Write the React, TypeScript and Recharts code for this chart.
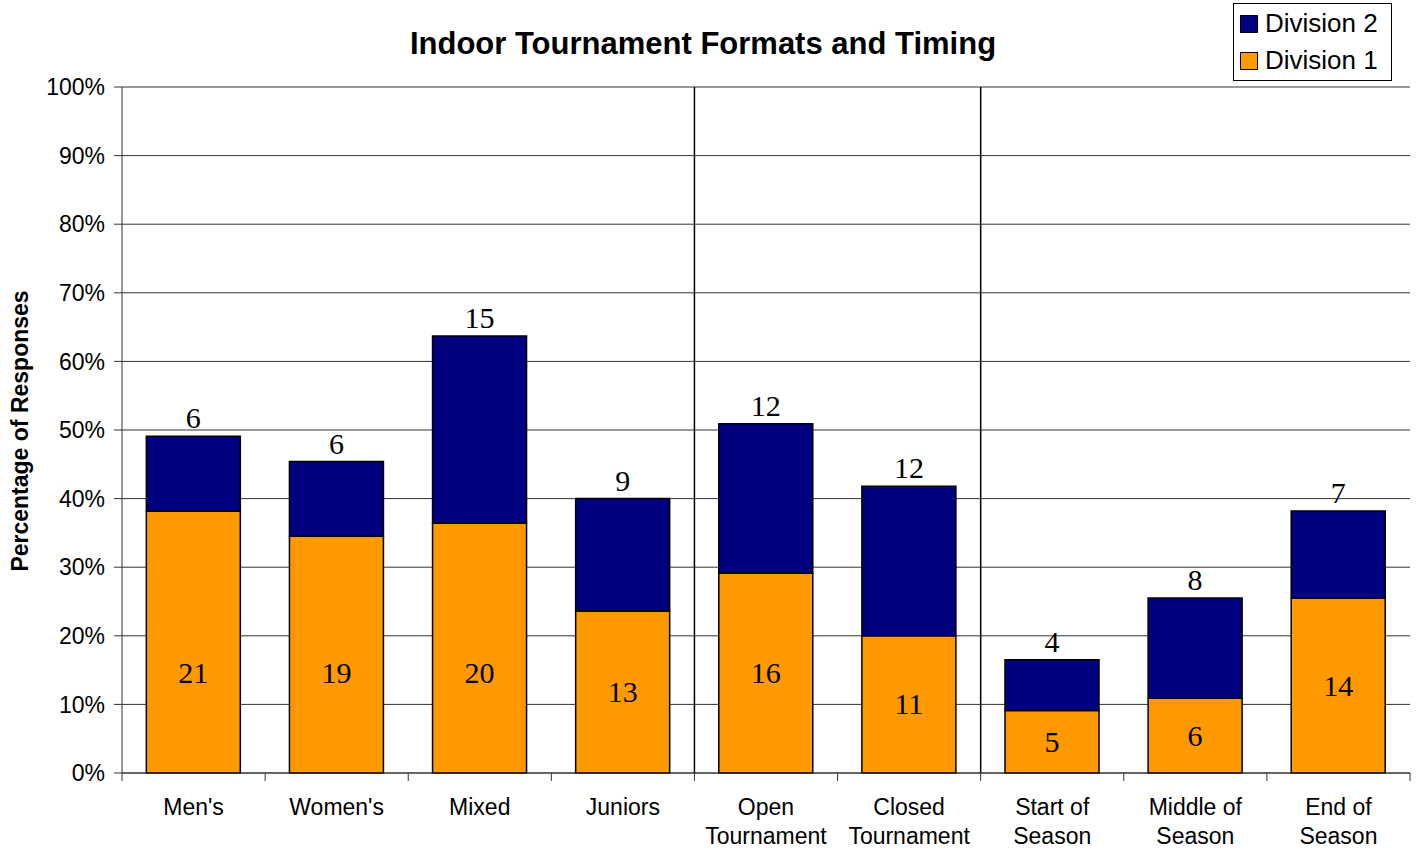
import { Bar, BarChart, CartesianGrid, LabelList, ReferenceLine, XAxis, YAxis } from "recharts";

const categories = [
  "Men's",
  "Women's",
  "Mixed",
  "Juniors",
  "Open\nTournament",
  "Closed\nTournament",
  "Start of\nSeason",
  "Middle of\nSeason",
  "End of\nSeason",
];

// percent of responses
const division1Pct = [38.2, 34.5, 36.4, 23.6, 29.1, 20.0, 9.1, 10.9, 25.5];
const division2Pct = [10.9, 10.9, 27.3, 16.4, 21.8, 21.8, 7.4, 14.6, 12.7];

// response counts printed on the bars
const division1Count = [21, 19, 20, 13, 16, 11, 5, 6, 14];
const division2Count = [6, 6, 15, 9, 12, 12, 4, 8, 7];

const yTicks = [0, 10, 20, 30, 40, 50, 60, 70, 80, 90, 100];

const data = categories.map((name, i) => ({
  name,
  d1: division1Pct[i],
  d2: division2Pct[i],
  c1: division1Count[i],
  c2: division2Count[i],
}));

const ORANGE = "#FF9900";
const NAVY = "#000080";
const SANS = "'Liberation Sans', Arial, sans-serif";
const SERIF = "'Liberation Serif', 'Times New Roman', serif";

function CategoryTick(props: any) {
  const { x, y, payload, index, visibleTicksCount } = props;
  const half = payload.offset ?? 0;
  const lines = String(payload.value).split("\n");
  const isLast = index === visibleTicksCount - 1;
  return (
    <g>
      <line x1={x - half} x2={x - half} y1={y} y2={y + 8} stroke="#333" />
      {isLast && <line x1={x + half} x2={x + half} y1={y} y2={y + 8} stroke="#333" />}
      <text x={x} y={y + 42} textAnchor="middle" fontSize={23} fontFamily={SANS} fill="#000">
        {lines.map((l, i) => (
          <tspan key={i} x={x} dy={i === 0 ? 0 : 29}>
            {l}
          </tspan>
        ))}
      </text>
    </g>
  );
}

// counts sit near the lower part of the orange segment
function InsideLabel(props: any) {
  const { x, y, width, height, value } = props;
  const bottom = y + height;
  const cy = bottom - Math.min(100, height / 2);
  return (
    <text x={x + width / 2} y={cy + 10} textAnchor="middle" fontSize={30} fontFamily={SERIF} fill="#000">
      {value}
    </text>
  );
}

function TopLabel(props: any) {
  const { x, y, width, value } = props;
  return (
    <text x={x + width / 2} y={y - 8} textAnchor="middle" fontSize={30} fontFamily={SERIF} fill="#000">
      {value}
    </text>
  );
}

function LegendBox() {
  const items = [
    { label: "Division 2", color: NAVY },
    { label: "Division 1", color: ORANGE },
  ];
  return (
    <div
      style={{
        position: "absolute",
        left: 1233,
        top: 3,
        width: 159,
        height: 78,
        border: "1px solid #000",
        background: "#fff",
        fontFamily: SANS,
        fontSize: 26,
        padding: "1px 0 0 6px",
        boxSizing: "border-box",
      }}
    >
      {items.map((it) => (
        <div key={it.label} style={{ display: "flex", alignItems: "center", height: 37 }}>
          <span
            style={{
              display: "inline-block",
              width: 16,
              height: 16,
              background: it.color,
              border: "1.5px solid #000",
              marginRight: 7,
            }}
          />
          {it.label}
        </div>
      ))}
    </div>
  );
}

export default function App() {
  return (
    <div style={{ position: "absolute", left: 0, top: 0, width: 1421, height: 850, background: "#fff" }}>
      <div
        style={{
          position: "absolute",
          left: 0,
          width: 1406,
          top: 26,
          textAlign: "center",
          fontFamily: SANS,
          fontWeight: "bold",
          fontSize: 31,
        }}
      >
        Indoor Tournament Formats and Timing
      </div>
      <div
        style={{
          position: "absolute",
          left: 20,
          top: 431,
          transform: "translate(-50%, -50%) rotate(-90deg)",
          whiteSpace: "nowrap",
          fontFamily: SANS,
          fontWeight: "bold",
          fontSize: 23,
        }}
      >
        Percentage of Responses
      </div>
      <BarChart
        width={1421}
        height={850}
        data={data}
        margin={{ top: 87, right: 11, left: 0, bottom: 0 }}
        barCategoryGap="17%"
        style={{ position: "absolute", left: 0, top: 0 }}
      >
        <CartesianGrid vertical={false} stroke="#333" strokeWidth={1} />
        <XAxis
          dataKey="name"
          height={77}
          interval={0}
          tickSize={0}
          tickMargin={0}
          stroke="#333"
          tick={<CategoryTick />}
        />
        <YAxis
          width={122}
          domain={[0, 100]}
          ticks={yTicks}
          tickFormatter={(v) => `${v}%`}
          tickSize={8}
          tickMargin={9}
          stroke="#333"
          tick={{ fill: "#000", fontSize: 23, fontFamily: SANS }}
        />
        <ReferenceLine x="Juniors" position="end" stroke="#000" strokeWidth={1.5} />
        <ReferenceLine x={"Closed\nTournament"} position="end" stroke="#000" strokeWidth={1.5} />
        <Bar dataKey="d1" stackId="a" fill={ORANGE} stroke="#000" strokeWidth={1.5} isAnimationActive={false}>
          <LabelList dataKey="c1" content={<InsideLabel />} />
        </Bar>
        <Bar dataKey="d2" stackId="a" fill={NAVY} stroke="#000" strokeWidth={1.5} isAnimationActive={false}>
          <LabelList dataKey="c2" content={<TopLabel />} />
        </Bar>
      </BarChart>
      <LegendBox />
    </div>
  );
}
